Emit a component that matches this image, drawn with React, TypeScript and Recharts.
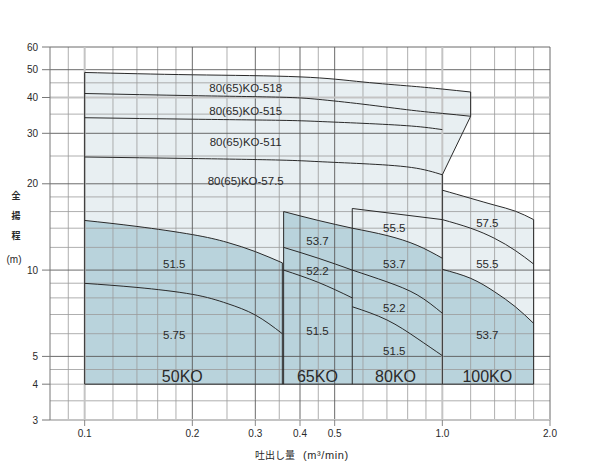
import { Area, ComposedChart, Line, ReferenceDot, ReferenceLine, XAxis, YAxis } from 'recharts';

// axis ticks and grid values
const xTicks = [0.1, 0.2, 0.3, 0.4, 0.5, 1.0, 2.0];
const yTicks = [3, 4, 5, 10, 20, 30, 40, 50, 60];
const xGridMinor = [0.09, 0.12, 0.14, 0.16, 0.18, 0.25, 0.35, 0.45, 0.6, 0.7, 0.8, 0.9, 1.2, 1.4, 1.6, 1.8];
const xGridMajor = [0.2, 0.3, 0.4, 0.5, 2.0];
const xGridBold = [0.1, 1.0];
const yGridMinor = [3.5, 4, 4.5, 6, 7, 8, 9, 12, 14, 16, 18, 25, 35, 45];
const yGridMajor = [5, 10, 20, 30, 50, 60];
const yGridBold = [40];

// 80(65)KO-5xx head curves (q: m3/min, h: m)
const head518 = [
  { q: 0.1, h: 48.9 }, { q: 0.2, h: 48.0 }, { q: 0.4, h: 47.2 }, { q: 0.6, h: 45.3 },
  { q: 0.82, h: 43.8 }, { q: 1.0, h: 42.8 }, { q: 1.2, h: 41.8 },
];
const head515 = [
  { q: 0.1, h: 41.3 }, { q: 0.2, h: 40.6 }, { q: 0.35, h: 40.1 }, { q: 0.45, h: 39.4 },
  { q: 0.6, h: 37.9 }, { q: 0.82, h: 36.1 }, { q: 1.0, h: 35.2 }, { q: 1.2, h: 34.4 },
];
const head511 = [
  { q: 0.1, h: 34.0 }, { q: 0.2, h: 33.6 }, { q: 0.35, h: 33.3 }, { q: 0.45, h: 33.0 },
  { q: 0.6, h: 32.5 }, { q: 0.82, h: 31.8 }, { q: 1.0, h: 30.9 },
];
const head575 = [
  { q: 0.1, h: 24.8 }, { q: 0.2, h: 24.5 }, { q: 0.35, h: 24.2 }, { q: 0.45, h: 23.9 },
  { q: 0.6, h: 23.5 }, { q: 0.82, h: 22.8 }, { q: 1.0, h: 21.5 },
];
const cutEdge = [{ q: 1.0, h: 21.5 }, { q: 1.2, h: 34.4 }];

// 50KO
const ko50a = [
  { q: 0.1, h: 14.9 }, { q: 0.14, h: 14.2 }, { q: 0.2, h: 13.3 }, { q: 0.25, h: 12.5 },
  { q: 0.3, h: 11.6 }, { q: 0.357, h: 10.6 },
];
const ko50b = [
  { q: 0.1, h: 8.99 }, { q: 0.14, h: 8.7 }, { q: 0.2, h: 8.23 }, { q: 0.25, h: 7.65 },
  { q: 0.3, h: 6.97 }, { q: 0.357, h: 6.0 },
];

// 65KO
const ko65top = [{ q: 0.36, h: 16.0 }, { q: 0.45, h: 14.9 }, { q: 0.56, h: 14.0 }];
const ko65a = [{ q: 0.36, h: 12.0 }, { q: 0.45, h: 11.0 }, { q: 0.56, h: 10.0 }];
const ko65b = [{ q: 0.36, h: 10.0 }, { q: 0.45, h: 9.06 }, { q: 0.56, h: 8.0 }];

// 80KO
const ko80top = [{ q: 0.56, h: 16.4 }, { q: 1.0, h: 15.0 }];
const ko80a = [{ q: 0.56, h: 14.0 }, { q: 0.7, h: 13.2 }, { q: 0.85, h: 12.2 }, { q: 1.0, h: 11.0 }];
const ko80b = [{ q: 0.56, h: 10.0 }, { q: 0.7, h: 9.1 }, { q: 0.85, h: 8.2 }, { q: 1.0, h: 7.07 }];
const ko80c = [{ q: 0.56, h: 7.45 }, { q: 0.7, h: 6.7 }, { q: 0.85, h: 5.78 }, { q: 1.0, h: 5.03 }];

// 100KO
const ko100top = [
  { q: 1.0, h: 19.0 }, { q: 1.2, h: 17.8 }, { q: 1.4, h: 16.85 }, { q: 1.6, h: 16.05 }, { q: 1.8, h: 15.0 },
];
const ko100a = [
  { q: 1.0, h: 15.0 }, { q: 1.2, h: 14.0 }, { q: 1.4, h: 12.9 }, { q: 1.6, h: 11.7 }, { q: 1.8, h: 10.5 },
];
const ko100b = [
  { q: 1.0, h: 10.06 }, { q: 1.2, h: 9.36 }, { q: 1.4, h: 8.4 }, { q: 1.6, h: 7.45 }, { q: 1.8, h: 6.52 },
];

// box outlines
const edges = [
  [{ q: 0.1, h: 4 }, { q: 0.1, h: 48.9 }],
  [{ q: 0.1, h: 4 }, { q: 1.8, h: 4 }],
  [{ q: 0.357, h: 4 }, { q: 0.357, h: 10.6 }],
  [{ q: 0.36, h: 4 }, { q: 0.36, h: 16.0 }],
  [{ q: 0.56, h: 4 }, { q: 0.56, h: 16.4 }],
  [{ q: 1.0, h: 4 }, { q: 1.0, h: 21.5 }],
  [{ q: 1.8, h: 4 }, { q: 1.8, h: 15.0 }],
  [{ q: 1.2, h: 34.4 }, { q: 1.2, h: 41.8 }],
];

const curveLabels = [
  { text: '80(65)KO-518', q: 0.282, h: 43.1 },
  { text: '80(65)KO-515', q: 0.282, h: 35.8 },
  { text: '80(65)KO-511', q: 0.282, h: 28.1 },
  { text: '80(65)KO-57.5', q: 0.282, h: 20.4 },
  { text: '51.5', q: 0.178, h: 10.5 },
  { text: '5.75', q: 0.178, h: 5.94 },
  { text: '53.7', q: 0.4475, h: 12.6 },
  { text: '52.2', q: 0.4475, h: 9.92 },
  { text: '51.5', q: 0.4475, h: 6.13 },
  { text: '55.5', q: 0.734, h: 14.0 },
  { text: '53.7', q: 0.734, h: 10.5 },
  { text: '52.2', q: 0.734, h: 7.37 },
  { text: '51.5', q: 0.734, h: 5.22 },
  { text: '57.5', q: 1.336, h: 14.6 },
  { text: '55.5', q: 1.336, h: 10.5 },
  { text: '53.7', q: 1.336, h: 5.94 },
];
const modelLabels = [
  { text: '50KO', q: 0.1875, h: 4.27 },
  { text: '65KO', q: 0.4475, h: 4.27 },
  { text: '80KO', q: 0.74, h: 4.27 },
  { text: '100KO', q: 1.336, h: 4.25 },
];

const LIGHT = '#e8eff2';
const DARK = '#b9d3dc';
const INK = '#2a2a2a';

const band = (pts: { q: number; h: number }[]) => pts.map((p) => ({ q: p.q, band: [4, p.h] }));
const regionA = band(head518.filter((p) => p.q <= 1.0));
const regionB = cutEdge.map((p) => ({
  q: p.q,
  band: [p.h, head518.find((t) => t.q === p.q)!.h],
}));

export default function App() {
  const curves = [head518, head515, head511, head575, ko50a, ko50b, ko65top, ko65a, ko65b,
    ko80top, ko80a, ko80b, ko80c, ko100top, ko100a, ko100b];
  return (
    <div style={{ position: 'absolute', left: 0, top: 0, width: 600, height: 470, fontFamily: '"Liberation Sans", Arial, "Noto Sans CJK JP", sans-serif', background: '#fff' }}>
      <ComposedChart width={600} height={470} margin={{ top: 47, right: 50, bottom: 20, left: 0 }}>
        <XAxis
          dataKey="q"
          type="number"
          scale="log"
          domain={[0.08, 2]}
          allowDataOverflow
          ticks={xTicks}
          interval={0}
          tickFormatter={(v: number) => v.toFixed(1)}
          height={30}
          tickSize={6}
          tickMargin={4}
          axisLine={{ stroke: '#c4c4c4', strokeWidth: 2 }}
          tickLine={{ stroke: '#888' }}
          tick={{ fontSize: 10, fill: INK }}
        />
        <YAxis
          type="number"
          scale="log"
          domain={[3, 60]}
          allowDataOverflow
          ticks={yTicks}
          interval={0}
          width={50}
          tickSize={8}
          tickMargin={4}
          axisLine={{ stroke: '#777' }}
          tickLine={{ stroke: '#777' }}
          tick={{ fontSize: 10, fill: INK }}
        />

        <Area data={regionA} dataKey="band" type="natural" fill={LIGHT} fillOpacity={1} stroke="none" isAnimationActive={false} />
        <Area data={regionB} dataKey="band" type="linear" fill={LIGHT} fillOpacity={1} stroke="none" isAnimationActive={false} />
        <Area data={band(ko100top)} dataKey="band" type="natural" fill={LIGHT} fillOpacity={1} stroke="none" isAnimationActive={false} />
        <Area data={band(ko50a)} dataKey="band" type="natural" fill={DARK} fillOpacity={1} stroke="none" isAnimationActive={false} />
        <Area data={band(ko65top)} dataKey="band" type="natural" fill={DARK} fillOpacity={1} stroke="none" isAnimationActive={false} />
        <Area data={band(ko80a)} dataKey="band" type="natural" fill={DARK} fillOpacity={1} stroke="none" isAnimationActive={false} />
        <Area data={band(ko100b)} dataKey="band" type="natural" fill={DARK} fillOpacity={1} stroke="none" isAnimationActive={false} />

        {xGridMinor.map((v) => <ReferenceLine key={'xm' + v} x={v} stroke="#9a9a9a" strokeWidth={0.8} />)}
        {yGridMinor.map((v) => <ReferenceLine key={'ym' + v} y={v} stroke="#9a9a9a" strokeWidth={0.8} />)}
        {xGridMajor.map((v) => <ReferenceLine key={'xM' + v} x={v} stroke="#5a5a5a" strokeWidth={0.9} />)}
        {yGridMajor.map((v) => <ReferenceLine key={'yM' + v} y={v} stroke="#5a5a5a" strokeWidth={0.9} />)}
        {xGridBold.map((v) => <ReferenceLine key={'xB' + v} x={v} stroke="#c4c4c4" strokeWidth={2} />)}
        {yGridBold.map((v) => <ReferenceLine key={'yB' + v} y={v} stroke="#c4c4c4" strokeWidth={2} />)}

        {curves.map((c, i) => (
          <Line key={'c' + i} data={c} dataKey="h" type="natural" stroke={INK} strokeWidth={1} dot={false} activeDot={false} isAnimationActive={false} />
        ))}
        <Line data={cutEdge} dataKey="h" type="linear" stroke={INK} strokeWidth={1} dot={false} activeDot={false} isAnimationActive={false} />
        {edges.map((e, i) => (
          <Line key={'e' + i} data={e} dataKey="h" type="linear" stroke={INK} strokeWidth={1} dot={false} activeDot={false} isAnimationActive={false} />
        ))}

        {curveLabels.map((l, i) => (
          <ReferenceDot key={'l' + i} x={l.q} y={l.h} r={0} fill="none" stroke="none"
            label={{ value: l.text, position: 'center', fontSize: 11.5, fill: INK }} />
        ))}
        {modelLabels.map((l, i) => (
          <ReferenceDot key={'m' + i} x={l.q} y={l.h} r={0} fill="none" stroke="none"
            label={{ value: l.text, position: 'center', fontSize: 16, fill: INK }} />
        ))}
      </ComposedChart>

      {['全', '揚', '程'].map((ch, i) => (
        <div key={ch} style={{ position: 'absolute', left: 8, top: 190 + i * 20, width: 16, textAlign: 'center', fontSize: 9, fontWeight: 'bold', lineHeight: '12px', color: INK }}>{ch}</div>
      ))}
      <div style={{ position: 'absolute', left: 4, top: 254, width: 20, textAlign: 'center', fontSize: 10, lineHeight: '12px', color: INK }}>(m)</div>
      <div style={{ position: 'absolute', left: 255, top: 449, fontSize: 10, lineHeight: '12px', color: INK, whiteSpace: 'pre' }}>
        吐出し量<span style={{ marginLeft: 8, fontSize: 11, letterSpacing: 0.6 }}>(m³/min)</span>
      </div>
    </div>
  );
}
